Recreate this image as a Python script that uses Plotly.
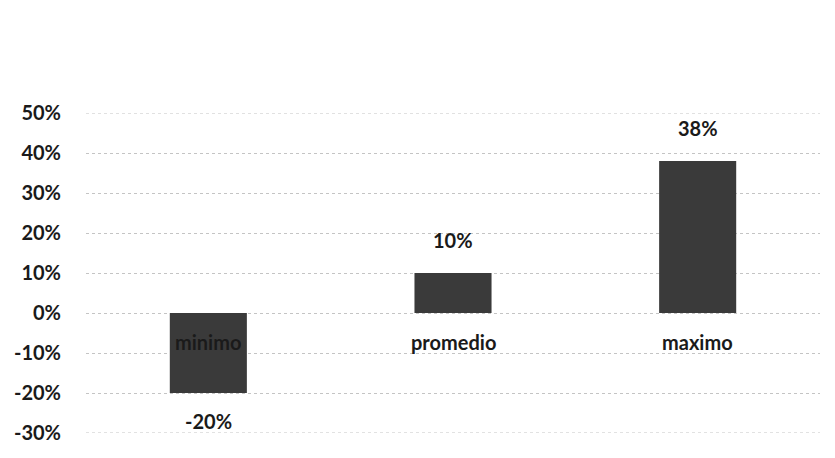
import plotly.graph_objects as go

categories = ["minimo", "promedio", "maximo"]
values = [-0.20, 0.10, 0.38]
value_labels = ["-20%", "10%", "38%"]
tick_vals = [-0.3, -0.2, -0.1, 0.0, 0.1, 0.2, 0.3, 0.4, 0.5]
tick_text = ["-30%", "-20%", "-10%", "0%", "10%", "20%", "30%", "40%", "50%"]

font_family = "Lato, 'Open Sans', sans-serif"
text_color = "#1a1a1a"
grid_color = "#c4c4c4"

fig = go.Figure()
fig.add_trace(go.Bar(
    x=categories,
    y=values,
    marker=dict(color="#3a3a3a", line=dict(width=0)),
    width=0.315,
    hoverinfo="skip",
))

annotations = []
for c, v, lab in zip(categories, values, value_labels):
    annotations.append(dict(
        x=c, y=v, xref="x", yref="y", text=lab, showarrow=False,
        yshift=33 if v >= 0 else -28,
        font=dict(family=font_family, size=20, color=text_color, weight="bold"),
    ))
    annotations.append(dict(
        x=c, y=0, xref="x", yref="y", text=c, showarrow=False,
        yshift=-29,
        font=dict(family=font_family, size=20, color=text_color, weight="bold"),
    ))

# edge gridlines (Plotly omits gridlines on the range boundaries)
shapes = []
for tv in (tick_vals[0], tick_vals[-1]):
    shapes.append(dict(
        type="line", xref="paper", yref="y", x0=0, x1=1, y0=tv, y1=tv,
        line=dict(color=grid_color, width=1, dash="dot"), layer="below",
    ))

fig.update_layout(
    width=835, height=458,
    margin=dict(l=78, r=23, t=105, b=33),
    paper_bgcolor="white", plot_bgcolor="white",
    showlegend=False,
    annotations=annotations,
    shapes=shapes,
    xaxis=dict(
        showticklabels=False, showgrid=False, zeroline=False,
        showline=False, ticks="", automargin=False,
    ),
    yaxis=dict(
        range=[-0.3, 0.5],
        tickvals=tick_vals, ticktext=tick_text,
        showgrid=True, gridcolor=grid_color, griddash="dot", gridwidth=1,
        zeroline=False, showline=False, ticks="",
        ticklabelstandoff=24, automargin=False,
        tickfont=dict(family=font_family, size=20, color=text_color, weight="bold"),
    ),
)

fig.write_html("out.html")
